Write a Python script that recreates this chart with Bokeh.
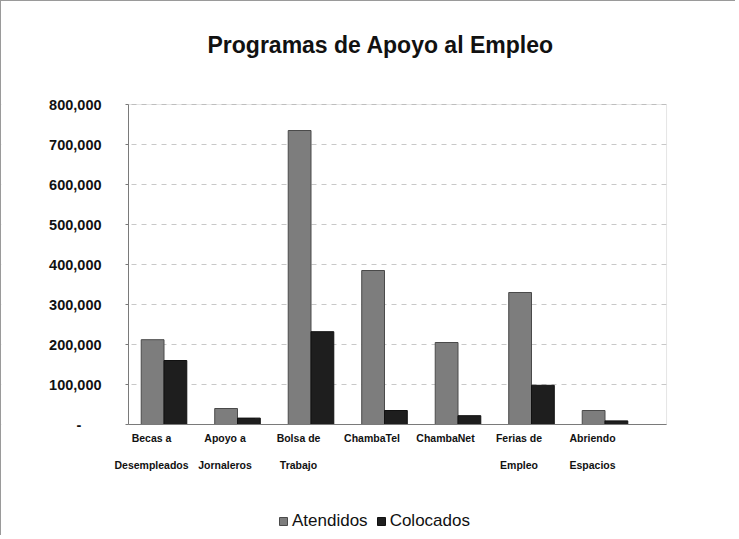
from bokeh.plotting import figure
from bokeh.models import (ColumnDataSource, Range1d, FixedTicker, NumeralTickFormatter,
                          Legend, LegendItem, Title, BoxAnnotation)
from bokeh.embed import file_html
from bokeh.resources import INLINE
from bokeh.transform import dodge

categories = ["Becas a\nDesempleados", "Apoyo a\nJornaleros", "Bolsa de\nTrabajo",
              "ChambaTel", "ChambaNet", "Ferias de\nEmpleo", "Abriendo\nEspacios"]
atendidos = [212000, 40000, 735000, 385000, 205000, 330000, 35000]
colocados = [160000, 16000, 232000, 35000, 22000, 98000, 9000]
y_ticks = [0, 100000, 200000, 300000, 400000, 500000, 600000, 700000, 800000]

xs = list(range(len(categories)))
src = ColumnDataSource(dict(x=xs, atendidos=atendidos, colocados=colocados))

FONT = "Liberation Sans"
W, H = 735, 535
# data extents of the drawing area (frame covers nearly the whole figure)
X_MIN, X_MAX = -2.041, 7.959
WALL_LEFT, WALL_RIGHT = -0.313, 7.007
Y_TOP = 800000
Y_MIN, Y_MAX = -270000, 857500

p = figure(width=W, height=H, output_backend="svg", toolbar_location=None,
           x_range=Range1d(X_MIN, X_MAX), y_range=Range1d(Y_MIN, Y_MAX),
           min_border_left=0, min_border_right=0, min_border_top=80,
           min_border_bottom=4)
p.background_fill_color = "white"
p.border_fill_color = "white"
p.outline_line_color = None
p.styles = {"border-top": "1px solid #9a9a9a", "border-left": "1px solid #9a9a9a"}

p.xgrid.grid_line_color = None
p.ygrid.grid_line_color = "#c8c8c8"
p.ygrid.grid_line_dash = "5 5"

# keep grid lines on the back wall only
p.add_layout(BoxAnnotation(left=X_MIN, right=WALL_LEFT, level="underlay",
                           fill_color="white", fill_alpha=1, line_alpha=0))
p.add_layout(BoxAnnotation(left=WALL_RIGHT, right=X_MAX, level="underlay",
                           fill_color="white", fill_alpha=1, line_alpha=0))
# back wall outline
p.add_layout(BoxAnnotation(left=WALL_LEFT, right=WALL_RIGHT, bottom=0, top=Y_TOP,
                           level="underlay", fill_alpha=0,
                           line_color="#a8a8a8", line_width=1))

r1 = p.vbar(x=dodge("x", 0.015, range=p.x_range), top="atendidos", width=0.31,
            source=src, fill_color="#7d7d7d", line_color="#4a4a4a", line_width=1)
r2 = p.vbar(x=dodge("x", 0.325, range=p.x_range), top="colocados", width=0.31,
            source=src, fill_color="#1e1e1e", line_color="#111111", line_width=1)

# x axis sits on the floor (value 0)
p.xaxis.fixed_location = 0
p.xaxis.bounds = (WALL_LEFT, WALL_RIGHT)
p.xaxis.ticker = FixedTicker(ticks=xs)
p.xaxis.major_label_overrides = {i: c for i, c in enumerate(categories)}
p.xaxis.major_label_text_font = FONT
p.xaxis.major_label_text_font_style = "bold"
p.xaxis.major_label_text_font_size = "10.5px"
p.xaxis.major_label_text_color = "#111111"
p.xaxis.major_label_text_line_height = 2.3
p.xaxis.major_label_standoff = 1
p.xaxis.major_tick_line_color = None
p.xaxis.minor_tick_line_color = None
p.xaxis.axis_line_color = "#7a7a7a"

# y axis sits on the left wall
p.yaxis.fixed_location = WALL_LEFT
p.yaxis.ticker = FixedTicker(ticks=y_ticks)
p.yaxis.bounds = (0, Y_TOP)
p.yaxis.formatter = NumeralTickFormatter(format="0,0")
p.yaxis.major_label_overrides = {0: "-" + "\u00a0" * 5}
p.yaxis.major_label_text_font = FONT
p.yaxis.major_label_text_font_style = "bold"
p.yaxis.major_label_text_font_size = "14.5px"
p.yaxis.major_label_text_color = "#111111"
p.yaxis.major_label_standoff = 24
p.yaxis.major_tick_line_color = "#7a7a7a"
p.yaxis.major_tick_in = 0
p.yaxis.major_tick_out = 3
p.yaxis.minor_tick_line_color = None
p.yaxis.axis_line_color = "#7a7a7a"

p.title = Title(text="Programas de Apoyo al Empleo", align="left",
                vertical_align="top",
                text_font=FONT, text_font_style="bold", text_font_size="23px",
                text_color="#111111", offset=206, standoff=44)

legend = Legend(items=[LegendItem(label="Atendidos", renderers=[r1]),
                       LegendItem(label="Colocados", renderers=[r2])],
                orientation="horizontal", location=(277, 1),
                label_text_font=FONT, label_text_font_size="17px",
                label_text_color="#111111",
                glyph_width=10, glyph_height=10, label_standoff=4, spacing=8,
                padding=0, margin=0, border_line_color=None,
                background_fill_alpha=0)
p.add_layout(legend, "center")

open("out.html", "w").write(file_html(p, INLINE))
